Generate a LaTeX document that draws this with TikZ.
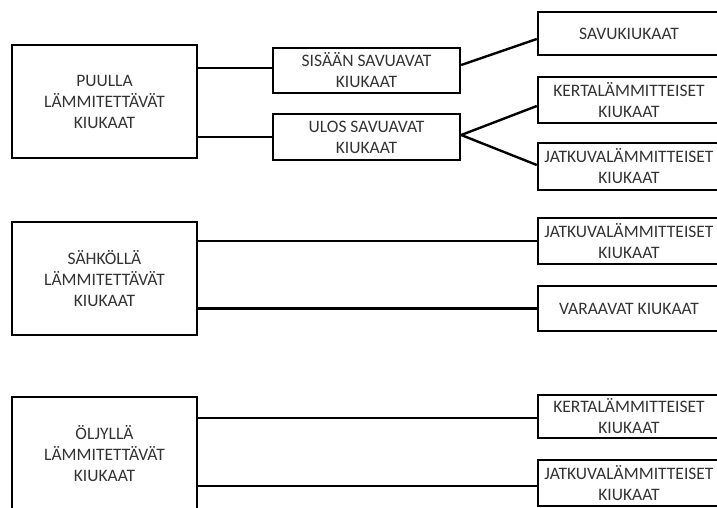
\documentclass[tikz,border=0pt]{standalone}
\usepackage{fontspec}
\setmainfont{Carlito}
\begin{document}
\begin{tikzpicture}[x=1pt,y=-1pt,
  box/.style={draw=black,line width=2.4pt,rectangle,inner sep=0pt,align=center,
    text=black!80,font=\fontsize{17.5}{21}\selectfont},
  conn/.style={draw=black,line width=2.4pt}]
\useasboundingbox (0,0) rectangle (717,507);
\clip (0,0) rectangle (717,507);
% left boxes
\node[box,minimum width=185pt,minimum height=113pt] (puu) at (104.5,101.5) {PUULLA\\LÄMMITETTÄVÄT\\KIUKAAT};
\node[box,minimum width=185pt,minimum height=113pt] (sah) at (104.5,278.5) {SÄHKÖLLÄ\\LÄMMITETTÄVÄT\\KIUKAAT};
\node[box,minimum width=185pt,minimum height=113pt] (olj) at (104.5,453.5) {ÖLJYLLÄ\\LÄMMITETTÄVÄT\\KIUKAAT};
% middle boxes
\node[box,minimum width=187pt,minimum height=45pt] (sis) at (366.5,70.5) {SISÄÄN SAVUAVAT\\KIUKAAT};
\node[box,minimum width=187pt,minimum height=46pt] (ulos) at (366.5,137) {ULOS SAVUAVAT\\KIUKAAT};
% right boxes
\node[box,minimum width=182pt,minimum height=43pt] (savu) at (629,33.5) {SAVUKIUKAAT};
\node[box,minimum width=182pt,minimum height=46pt] (ker1) at (629,100) {KERTALÄMMITTEISET\\KIUKAAT};
\node[box,minimum width=182pt,minimum height=47pt] (jat1) at (629,166.5) {JATKUVALÄMMITTEISET\\KIUKAAT};
\node[box,minimum width=182pt,minimum height=46pt] (jat2) at (629,241) {JATKUVALÄMMITTEISET\\KIUKAAT};
\node[box,minimum width=182pt,minimum height=45pt] (var) at (629,308.5) {VARAAVAT KIUKAAT};
\node[box,minimum width=182pt,minimum height=43pt] (ker3) at (629,416.5) {KERTALÄMMITTEISET\\KIUKAAT};
\node[box,minimum width=182pt,minimum height=46pt] (jat3) at (629,483) {JATKUVALÄMMITTEISET\\KIUKAAT};
% connectors
\draw[conn] ([yshift=2.5pt]puu.east |- sis.west) -- ([yshift=2.5pt]sis.west);
\draw[conn] (puu.east |- ulos.west) -- (ulos.west);
\draw[conn] ([yshift=5.5pt]sis.east) -- ([yshift=-5.5pt]savu.west);
\draw[conn] ([yshift=2pt]ulos.east) -- ([yshift=-6pt]ker1.west);
\draw[conn] ([yshift=2pt]ulos.east) -- ([yshift=1.5pt]jat1.west);
\draw[conn] (sah.east |- jat2.west) -- (jat2.west);
\draw[conn] (sah.east |- var.west) -- (var.west);
\draw[conn] ([yshift=-1.5pt]olj.east |- ker3.west) -- ([yshift=-1.5pt]ker3.west);
\draw[conn] ([yshift=-3pt]olj.east |- jat3.west) -- ([yshift=-3pt]jat3.west);
\end{tikzpicture}
\end{document}
